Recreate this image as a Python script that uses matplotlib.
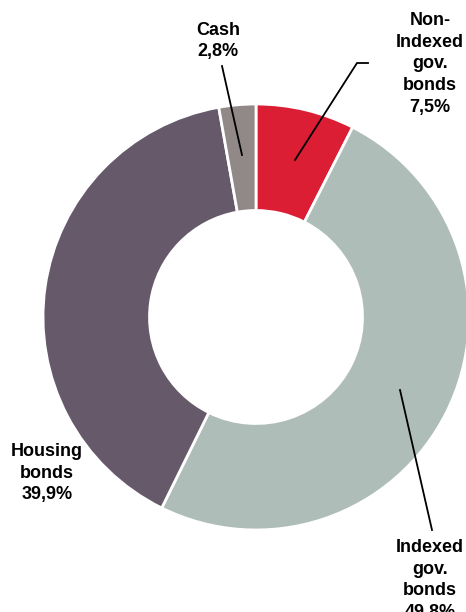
import matplotlib
matplotlib.use('Agg')
import matplotlib.pyplot as plt

plt.rcParams['font.family'] = ['Liberation Sans', 'DejaVu Sans']

# Data (clockwise from top)
labels = ['Non-\nIndexed\ngov.\nbonds', 'Indexed\ngov.\nbonds', 'Housing\nbonds', 'Cash']
values = [7.5, 49.8, 39.9, 2.8]
colors = ['#DC1E35', '#AFBDB8', '#665A6A', '#918888']

fig = plt.figure(figsize=(4.66, 6.12), dpi=100)
ax = fig.add_axes([0, 0, 1, 1])

cx, cy, r = 256, 612 - 317, 213
ax.pie(values, colors=colors, startangle=90, counterclock=False,
       center=(cx, cy), radius=r, frame=True,
       wedgeprops=dict(width=r * 0.5, edgecolor='white', linewidth=2))
ax.set_xlim(0, 466)
ax.set_ylim(0, 612)
ax.set_aspect('equal')
ax.axis('off')

def pct(v):
    return f'{v:.1f}%'.replace('.', ',')

txt = dict(fontsize=13, fontweight='bold', ha='center', va='center', linespacing=1.36)
# label positions in pixel coords (y from top)
ax.text(218, 612 - 41, f'{labels[3]}\n{pct(values[3])}', **txt)
ax.text(430, 612 - 64, f'{labels[0]}\n{pct(values[0])}', **txt)
ax.text(430, 612 - 580, f'{labels[1]}\n{pct(values[1])}', **txt)
ax.text(47, 612 - 473, f'{labels[2]}\n{pct(values[2])}', **txt)

# leader lines
ax.plot([222, 242], [612 - 66, 612 - 155], color='black', lw=1.3)
ax.plot([295, 357, 368], [612 - 160, 612 - 63, 612 - 63], color='black', lw=1.3)
ax.plot([400, 432], [612 - 390, 612 - 530], color='black', lw=1.3)

fig.savefig('out.png', dpi=100)
